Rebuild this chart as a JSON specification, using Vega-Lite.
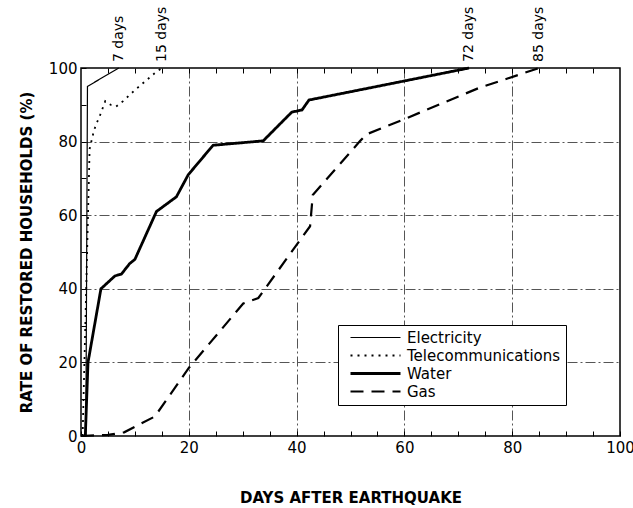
{
  "$schema": "https://vega.github.io/schema/vega-lite/v6.json",
  "width": 539,
  "height": 368,
  "autosize": "none",
  "padding": {"left": 81, "top": 68, "right": 13, "bottom": 72},
  "config": {
    "font": "DejaVu Sans",
    "view": {"stroke": "black", "strokeWidth": 1.5},
    "background": "white",
    "legend": {
      "symbolType": "M-25,0H25",
      "symbolSize": 4,
      "symbolOffset": 25,
      "labelFont": "DejaVu Sans",
      "labelFontSize": 15,
      "labelColor": "black",
      "labelOffset": 24,
      "rowPadding": 2,
      "padding": 5,
      "strokeColor": "black",
      "fillColor": "white",
      "cornerRadius": 0
    }
  },
  "datasets": {
    "curves": [
      {"series": "Electricity", "day": 0.9, "pct": 0},
      {"series": "Electricity", "day": 1.2, "pct": 95},
      {"series": "Electricity", "day": 7, "pct": 100},
      {"series": "Telecommunications", "day": 0.3, "pct": 0},
      {"series": "Telecommunications", "day": 1.6, "pct": 78},
      {"series": "Telecommunications", "day": 2.4, "pct": 83},
      {"series": "Telecommunications", "day": 2.9, "pct": 85},
      {"series": "Telecommunications", "day": 3.5, "pct": 87},
      {"series": "Telecommunications", "day": 4.5, "pct": 91},
      {"series": "Telecommunications", "day": 5.5, "pct": 90},
      {"series": "Telecommunications", "day": 6.5, "pct": 89.5},
      {"series": "Telecommunications", "day": 7.8, "pct": 91},
      {"series": "Telecommunications", "day": 8.9, "pct": 92.5},
      {"series": "Telecommunications", "day": 10, "pct": 94},
      {"series": "Telecommunications", "day": 11.2, "pct": 95.5},
      {"series": "Telecommunications", "day": 12.4, "pct": 97},
      {"series": "Telecommunications", "day": 13.6, "pct": 98.5},
      {"series": "Telecommunications", "day": 15, "pct": 100},
      {"series": "Water", "day": 0.8, "pct": 0},
      {"series": "Water", "day": 1.3, "pct": 20},
      {"series": "Water", "day": 3.7, "pct": 40},
      {"series": "Water", "day": 6.3, "pct": 43.5},
      {"series": "Water", "day": 7.5, "pct": 44},
      {"series": "Water", "day": 9, "pct": 46.8},
      {"series": "Water", "day": 10, "pct": 48},
      {"series": "Water", "day": 14, "pct": 61},
      {"series": "Water", "day": 17.7, "pct": 65},
      {"series": "Water", "day": 19.9, "pct": 71},
      {"series": "Water", "day": 24.5, "pct": 79},
      {"series": "Water", "day": 33.8, "pct": 80.2},
      {"series": "Water", "day": 39.1, "pct": 88},
      {"series": "Water", "day": 41, "pct": 88.6},
      {"series": "Water", "day": 42.3, "pct": 91.3},
      {"series": "Water", "day": 53.6, "pct": 94.6},
      {"series": "Water", "day": 72, "pct": 100},
      {"series": "Gas", "day": 0, "pct": 0},
      {"series": "Gas", "day": 5, "pct": 0.3},
      {"series": "Gas", "day": 8, "pct": 1},
      {"series": "Gas", "day": 13.7, "pct": 5.3},
      {"series": "Gas", "day": 20, "pct": 18.5},
      {"series": "Gas", "day": 30.1, "pct": 36},
      {"series": "Gas", "day": 32.9, "pct": 37.5},
      {"series": "Gas", "day": 42.5, "pct": 57},
      {"series": "Gas", "day": 43, "pct": 65.5},
      {"series": "Gas", "day": 51.8, "pct": 80.2},
      {"series": "Gas", "day": 53, "pct": 82},
      {"series": "Gas", "day": 59.8, "pct": 86},
      {"series": "Gas", "day": 73.7, "pct": 94.5},
      {"series": "Gas", "day": 85, "pct": 100}
    ],
    "notes": [
      {"day": 7, "label": "7 days"},
      {"day": 15, "label": "15 days"},
      {"day": 72, "label": "72 days"},
      {"day": 85, "label": "85 days"}
    ]
  },
  "layer": [
    {
      "data": {"name": "curves"},
      "mark": {"type": "line", "clip": false},
      "encoding": {
        "x": {
          "field": "day",
          "type": "quantitative",
          "scale": {"domain": [0, 100], "nice": false, "zero": false},
          "axis": {
            "orient": "bottom",
            "values": [0, 5, 10, 15, 20, 25, 30, 35, 40, 45, 50, 55, 60, 65, 70, 75, 80, 85, 90, 95, 100],
            "labelExpr": "datum.value % 20 === 0 ? datum.label : ''",
            "labelFont": "DejaVu Sans",
            "labelFontSize": 15,
            "labelColor": "black",
            "labelPadding": 9,
            "labelFlush": false,
            "labelOverlap": false,
            "domain": false,
            "ticks": true,
            "tickSize": -5,
            "tickColor": "black",
            "grid": true,
            "gridColor": "#555",
            "gridWidth": 1,
            "gridDash": [10, 3, 2, 3],
            "gridOpacity": {"condition": {"test": "datum.value % 20 === 0 && datum.value > 0 && datum.value < 100", "value": 1}, "value": 0},
            "title": "DAYS AFTER EARTHQUAKE",
            "titleFont": "DejaVu Sans",
            "titleFontSize": 15,
            "titleFontWeight": "bold",
            "titleColor": "black",
            "titlePadding": 35
          }
        },
        "y": {
          "field": "pct",
          "type": "quantitative",
          "scale": {"domain": [0, 100], "nice": false},
          "axis": {
            "orient": "left",
            "values": [0, 10, 20, 30, 40, 50, 60, 70, 80, 90, 100],
            "labelExpr": "datum.value % 20 === 0 ? datum.label : ''",
            "labelFont": "DejaVu Sans",
            "labelFontSize": 15,
            "labelColor": "black",
            "labelPadding": 9,
            "labelFlush": false,
            "labelOverlap": false,
            "domain": false,
            "tickSize": -5,
            "tickColor": "black",
            "grid": true,
            "gridColor": "#555",
            "gridWidth": 1,
            "gridDash": [10, 3, 2, 3],
            "gridOpacity": {"condition": {"test": "datum.value % 20 === 0 && datum.value > 0 && datum.value < 100", "value": 1}, "value": 0},
            "title": "RATE OF RESTORED HOUSEHOLDS (%)",
            "titleFont": "DejaVu Sans",
            "titleFontSize": 15,
            "titleFontWeight": "bold",
            "titleColor": "black",
            "titlePadding": 14
          }
        },
        "color": {
          "field": "series",
          "type": "nominal",
          "scale": {"domain": ["Electricity", "Telecommunications", "Water", "Gas"], "range": ["black", "black", "black", "black"]},
          "legend": {"orient": "none", "legendX": 257, "legendY": 257, "title": null}
        },
        "strokeDash": {
          "field": "series",
          "type": "nominal",
          "scale": {"domain": ["Electricity", "Telecommunications", "Water", "Gas"], "range": [[1, 0], [2, 5], [1, 0], [13, 8]]},
          "legend": {"orient": "none", "legendX": 257, "legendY": 257, "title": null}
        },
        "strokeWidth": {
          "field": "series",
          "type": "nominal",
          "scale": {"type": "ordinal", "domain": ["Electricity", "Telecommunications", "Water", "Gas"], "range": [1.2, 1.8, 2.8, 2.2]},
          "legend": {"orient": "none", "legendX": 257, "legendY": 257, "title": null}
        }
      }
    },
    {
      "data": {"name": "notes"},
      "mark": {"type": "text", "angle": 270, "align": "left", "baseline": "middle", "dx": 6, "font": "DejaVu Sans", "fontSize": 14, "color": "black", "clip": false},
      "encoding": {
        "x": {
          "field": "day",
          "type": "quantitative",
          "scale": {"domain": [0, 100], "nice": false, "zero": false},
          "axis": {
            "orient": "top",
            "values": [5, 10, 15, 20, 25, 30, 35, 40, 45, 50, 55, 60, 65, 70, 75, 80, 85, 90, 95],
            "labels": false,
            "domain": false,
            "grid": false,
            "tickSize": -5,
            "tickColor": "black",
            "title": null
          }
        },
        "y": {"datum": 100, "type": "quantitative", "scale": {"domain": [0, 100], "nice": false}, "axis": null},
        "text": {"field": "label", "type": "nominal"}
      }
    }
  ],
  "resolve": {"axis": {"x": "independent", "y": "independent"}}
}
